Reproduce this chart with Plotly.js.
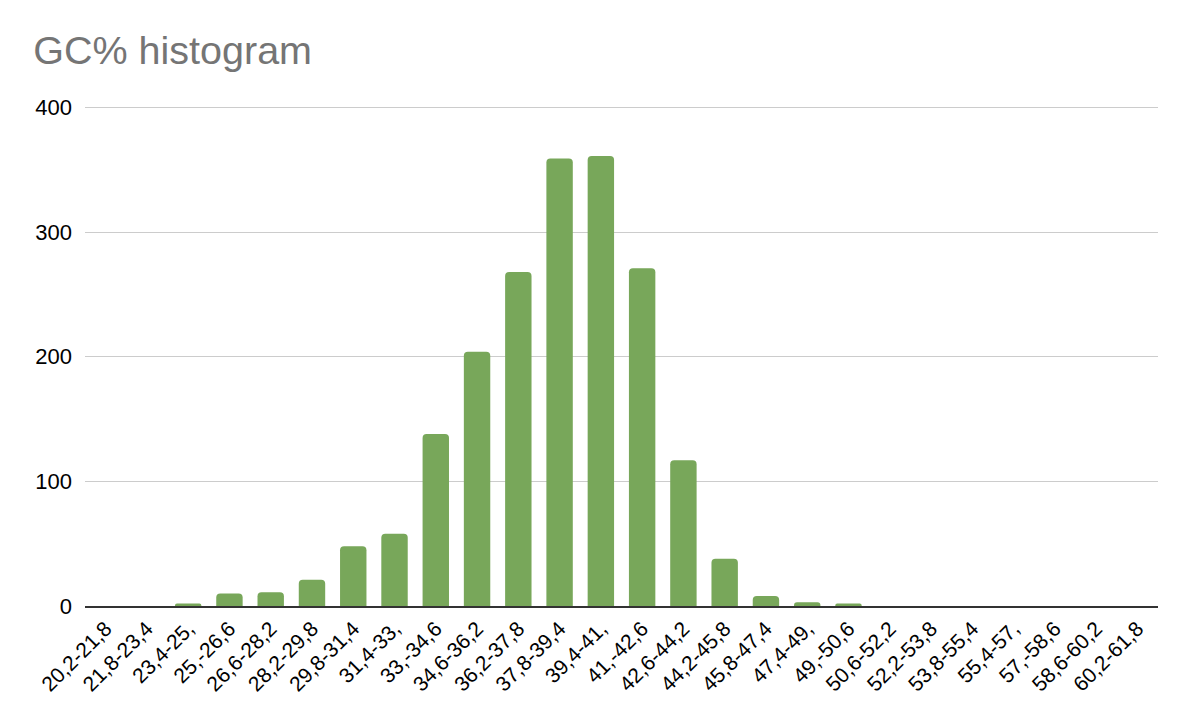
<!DOCTYPE html>
<html>
<head>
<meta charset="utf-8">
<script src="https://cdn.plot.ly/plotly-3.0.1.min.js"></script>
<style>html,body{margin:0;padding:0;background:#fff;}#chart{width:1188px;height:723px;}</style>
</head>
<body>
<div id="chart"></div>
<script>
const categories = ["20,2-21,8","21,8-23,4","23,4-25,","25,-26,6","26,6-28,2","28,2-29,8","29,8-31,4","31,4-33,","33,-34,6","34,6-36,2","36,2-37,8","37,8-39,4","39,4-41,","41,-42,6","42,6-44,2","44,2-45,8","45,8-47,4","47,4-49,","49,-50,6","50,6-52,2","52,2-53,8","53,8-55,4","55,4-57,","57,-58,6","58,6-60,2","60,2-61,8"];
const counts = [0,0,2,10,11,21,48,58,138,204,268,359,361,271,117,38,8,3,2,0,0,0,0,0,0,0];
const yTicks = [0,100,200,300,400];

Plotly.newPlot('chart', [{
  type: 'bar',
  x: categories,
  y: counts,
  marker: {color: '#78a75a'},
  hoverinfo: 'x+y'
}], {
  width: 1188, height: 723,
  margin: {l: 85, r: 30, t: 105, b: 117},
  paper_bgcolor: '#fff', plot_bgcolor: '#fff',
  bargap: 0.36,
  barcornerradius: 4,
  font: {family: 'Liberation Sans, Arial, sans-serif', color: '#000'},
  title: {text: 'GC% histogram', x: 0.028, xanchor: 'left', y: 0.93, yanchor: 'middle',
          font: {size: 39.5, color: '#757575', family: 'Liberation Sans, Arial, sans-serif'}},
  xaxis: {tickangle: -45, tickfont: {size: 21, color: '#000'}, showgrid: false,
          showline: true, linecolor: '#333', linewidth: 2, ticks: '', zeroline: false},
  yaxis: {range: [0, 402], tickvals: yTicks, ticktext: yTicks.map(String),
          tickfont: {size: 22, color: '#000'}, gridcolor: '#cccccc', gridwidth: 1,
          zeroline: false, showline: false, ticks: '', ticklabelstandoff: 12},
  showlegend: false
}, {displayModeBar: false});
</script>
</body>
</html>
